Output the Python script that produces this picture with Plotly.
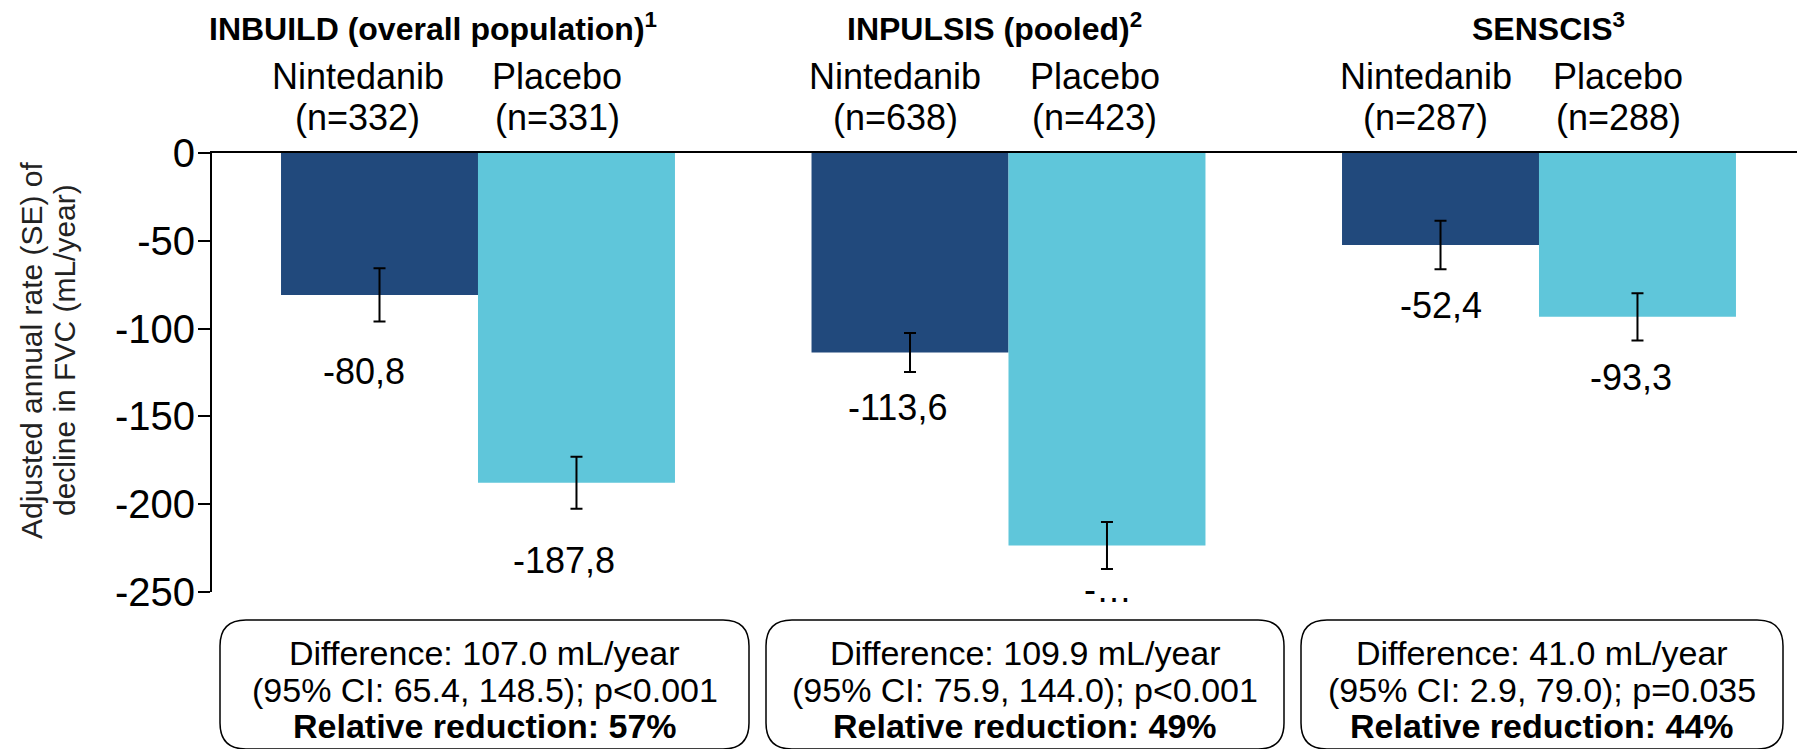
import plotly.graph_objects as go

# ---------------- data ----------------
studies = ["INBUILD (overall population)<sup>1</sup>", "INPULSIS (pooled)<sup>2</sup>", "SENSCIS<sup>3</sup>"]
nint_n = [332, 638, 287]
plac_n = [331, 423, 288]
nint_values = [-80.8, -113.6, -52.4]
plac_values = [-187.8, -223.5, -93.3]
nint_se = [15.1, 11.1, 13.8]
plac_se = [14.8, 13.4, 13.5]
nint_labels = ["-80,8", "-113,6", "-52,4"]
plac_labels = ["-187,8", "-\u2026", "-93,3"]
diff_lines = ["Difference: 107.0 mL/year", "Difference: 109.9 mL/year", "Difference: 41.0 mL/year"]
ci_lines = ["(95% CI: 65.4, 148.5); p<0.001", "(95% CI: 75.9, 144.0); p<0.001", "(95% CI: 2.9, 79.0); p=0.035"]
rel_lines = ["Relative reduction: 57%", "Relative reduction: 49%", "Relative reduction: 44%"]
y_ticks = [0, -50, -100, -150, -200, -250]
y_title_lines = ["Adjusted annual rate (SE) of", "decline in FVC (mL/year)"]

# ---------------- style ----------------
FONT = "Liberation Sans, Arial, sans-serif"
DARK = "#21497C"
LIGHT = "#5FC6DA"
W, H = 1797, 749
ML, MR, MT, MB = 212, 0, 153, 157
PW, PH = W - ML - MR, H - MT - MB
BAR_W = 0.3713
X_RANGE = [-0.5014, -0.5014 + PW / 530.5]

def px(xpix):
    return (xpix - ML) / PW

def py(ypix):
    return (H - MB - ypix) / PH

x = list(range(len(studies)))

fig = go.Figure()
fig.add_trace(go.Bar(
    x=x, y=nint_values, width=BAR_W, offset=-BAR_W, name="Nintedanib",
    marker=dict(color=DARK, line=dict(width=0)),
    error_y=dict(type="data", array=nint_se, color="black", thickness=2, width=6),
))
fig.add_trace(go.Bar(
    x=x, y=plac_values, width=BAR_W, offset=0, name="Placebo",
    marker=dict(color=LIGHT, line=dict(width=0)),
    error_y=dict(type="data", array=plac_se, color="black", thickness=2, width=6),
))

ann = []
# value labels below the bars
nint_lab_dy = [77, 55, 60]
plac_lab_dy = [78, 44, 61]
nint_lab_dx = [-16, -13, 0]
plac_lab_dx = [-12, 1, -6]
for i in x:
    ann.append(dict(x=i - BAR_W / 2, y=nint_values[i], xref="x", yref="y", text=nint_labels[i],
                    showarrow=False, yshift=-nint_lab_dy[i], xshift=nint_lab_dx[i],
                    font=dict(size=36, color="black", family=FONT)))
    ann.append(dict(x=i + BAR_W / 2, y=plac_values[i], xref="x", yref="y", text=plac_labels[i],
                    showarrow=False, yshift=-plac_lab_dy[i], xshift=plac_lab_dx[i],
                    font=dict(size=36, color="black", family=FONT)))

# headers
title_dx = [-45, -14, 10]
name_dx = [[-22, -19], [-15, -12], [-15, -19]]
for i in x:
    ann.append(dict(x=i, y=py(27), xref="x", yref="paper", text="<b>" + studies[i] + "</b>",
                    showarrow=False, xshift=title_dx[i], yanchor="middle",
                    font=dict(size=32, color="black", family=FONT)))
    for k, (xc, name, n) in enumerate(((i - BAR_W / 2, "Nintedanib", nint_n[i]),
                                       (i + BAR_W / 2, "Placebo", plac_n[i]))):
        dx = name_dx[i][k]
        ann.append(dict(x=xc, y=py(77), xref="x", yref="paper", text=name, showarrow=False,
                        xshift=dx, yanchor="middle", font=dict(size=36, color="black", family=FONT)))
        ann.append(dict(x=xc, y=py(118), xref="x", yref="paper", text=f"(n={n})", showarrow=False,
                        xshift=dx, yanchor="middle", font=dict(size=36, color="black", family=FONT)))

# y axis title (two lines)
for xpix, line in zip((31, 64), y_title_lines):
    ann.append(dict(x=px(xpix), y=py(350), xref="paper", yref="paper", text=line, showarrow=False,
                    textangle=-90, xanchor="center", yanchor="middle",
                    font=dict(size=30, color="#222222", family=FONT)))

# boxes below
boxes = [(220, 620, 749, 749), (766, 620, 1284, 749), (1301, 620, 1783, 749)]
shapes = []
R = 26
for i, (x0, y0, x1, y1) in enumerate(boxes):
    rx, ry = R / PW, R / PH
    X0, X1, Y0, Y1 = px(x0), px(x1), py(y1), py(y0)  # Y0 bottom, Y1 top
    path = (f"M {X0+rx},{Y1} L {X1-rx},{Y1} Q {X1},{Y1} {X1},{Y1-ry} "
            f"L {X1},{Y0+ry} Q {X1},{Y0} {X1-rx},{Y0} L {X0+rx},{Y0} Q {X0},{Y0} {X0},{Y0+ry} "
            f"L {X0},{Y1-ry} Q {X0},{Y1} {X0+rx},{Y1} Z")
    shapes.append(dict(type="path", path=path, xref="paper", yref="paper",
                       line=dict(color="black", width=1.5), fillcolor="white", layer="above"))
    cx = px((x0 + x1) / 2)
    for ypix, txt in ((653, diff_lines[i]), (690, ci_lines[i]), (726, "<b>" + rel_lines[i] + "</b>")):
        ann.append(dict(x=cx, y=py(ypix), xref="paper", yref="paper", text=txt, showarrow=False,
                        xanchor="center", yanchor="middle",
                        font=dict(size=34, color="black", family=FONT)))

fig.update_layout(
    width=W, height=H, margin=dict(l=ML, r=MR, t=MT, b=MB),
    paper_bgcolor="white", plot_bgcolor="white", showlegend=False,
    barmode="overlay", annotations=ann, shapes=shapes,
    font=dict(family=FONT, color="black"),
    xaxis=dict(range=X_RANGE, showline=True, linecolor="black", linewidth=2, side="top",
               showticklabels=False, ticks="", showgrid=False, zeroline=False, fixedrange=True),
    yaxis=dict(range=[-250, 0], tickvals=y_ticks, ticktext=[str(v) for v in y_ticks],
               showline=True, linecolor="black", linewidth=2, ticks="outside", ticklen=12,
               tickwidth=2, tickcolor="black", showgrid=False, zeroline=False,
               tickfont=dict(size=40, color="black", family=FONT), ticklabelstandoff=-5),
)

fig.write_html("out.html", config={"displayModeBar": False, "staticPlot": True},
               post_script="document.body.style.margin='0px';")
